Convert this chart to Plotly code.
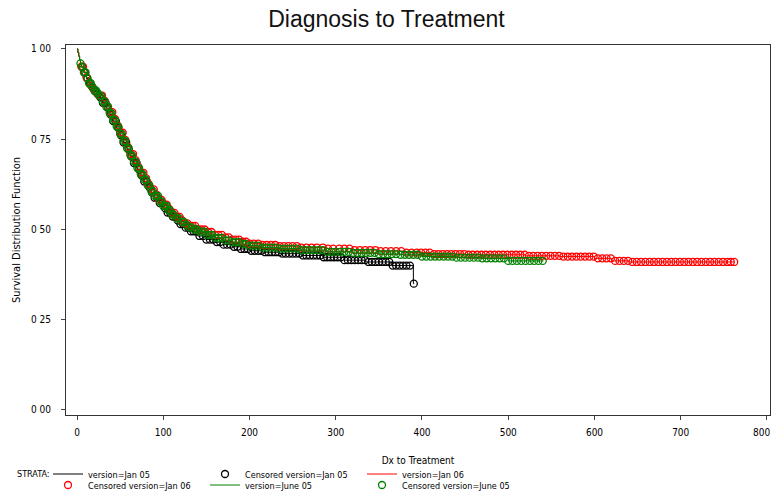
import numpy as np
import plotly.graph_objects as go

# ---------------- data ----------------
strata = ["version=Jan 05", "version=Jan 06", "version=June 05"]
colors = ["#000000", "#ff0000", "#008000"]

# Kaplan-Meier step knots: (time, survival after step)
jan05_t = [0, 1, 2, 3, 4, 5, 8, 11, 14, 17, 20, 23, 26, 30, 34, 38, 42, 46, 50, 54, 58, 62, 66,
           70, 74, 78, 82, 86, 90, 95, 100, 105, 110, 115, 120, 125, 130, 140, 150, 160, 170,
           180, 190, 200, 215, 235, 260, 285, 310, 335, 365, 390, 391]
jan05_s = [1.0, 0.99, 0.98, 0.97, 0.96, 0.95, 0.934, 0.918, 0.903, 0.893, 0.883, 0.875, 0.866,
           0.851, 0.836, 0.818, 0.80, 0.781, 0.761, 0.741, 0.721, 0.702, 0.684, 0.666, 0.649,
           0.633, 0.617, 0.602, 0.588, 0.573, 0.559, 0.547, 0.536, 0.525, 0.515, 0.505, 0.495,
           0.482, 0.472, 0.465, 0.458, 0.452, 0.446, 0.441, 0.437, 0.433, 0.428, 0.423, 0.415,
           0.41, 0.40, 0.35, 0.35]

jan06_t = [0, 1, 2, 3, 4, 5, 8, 11, 14, 17, 20, 23, 26, 30, 34, 38, 42, 46, 50, 54, 58, 62, 66,
           70, 74, 78, 82, 86, 90, 95, 100, 105, 110, 115, 120, 125, 130, 140, 150, 160, 170,
           180, 190, 200, 215, 235, 260, 290, 320, 350, 380, 410, 450, 520, 560, 600, 620, 640,
           762]
jan06_s = [1.0, 0.99, 0.98, 0.97, 0.96, 0.951, 0.936, 0.921, 0.907, 0.897, 0.887, 0.879, 0.871,
           0.857, 0.842, 0.825, 0.806, 0.788, 0.768, 0.748, 0.729, 0.709, 0.692, 0.674, 0.657,
           0.642, 0.626, 0.611, 0.597, 0.582, 0.569, 0.557, 0.546, 0.535, 0.525, 0.517, 0.51,
           0.50, 0.493, 0.485, 0.478, 0.472, 0.466, 0.461, 0.457, 0.454, 0.45, 0.447, 0.443,
           0.44, 0.436, 0.432, 0.43, 0.427, 0.425, 0.42, 0.413, 0.41, 0.41]

june05_t = [0, 1, 2, 3, 4, 5, 8, 11, 14, 17, 20, 23, 26, 30, 34, 38, 42, 46, 50, 54, 58, 62, 66,
            70, 74, 78, 82, 86, 90, 95, 100, 105, 110, 115, 120, 125, 130, 135, 140, 150, 160,
            170, 180, 190, 200, 215, 235, 260, 290, 320, 350, 375, 400, 440, 470, 500, 541]
june05_s = [1.0, 0.99, 0.98, 0.97, 0.96, 0.95, 0.935, 0.92, 0.905, 0.895, 0.885, 0.878, 0.87,
            0.855, 0.84, 0.822, 0.803, 0.785, 0.765, 0.745, 0.725, 0.705, 0.688, 0.67, 0.653,
            0.638, 0.622, 0.607, 0.593, 0.578, 0.565, 0.553, 0.542, 0.531, 0.521, 0.513, 0.506,
            0.50, 0.494, 0.485, 0.477, 0.47, 0.465, 0.46, 0.455, 0.45, 0.447, 0.443, 0.438,
            0.435, 0.432, 0.43, 0.425, 0.422, 0.42, 0.413, 0.413]

# censoring times
jan05_cens = [6, 9, 12, 15, 18, 21, 24, 27, 30, 33, 36, 39, 42, 45, 48, 51, 54, 57, 60, 63, 66,
              69, 72, 75, 78, 81, 84, 87, 90, 93, 96, 99, 102, 105, 108, 111, 114, 117, 120,
              123, 126, 129, 132, 135, 138, 142, 146, 150, 154, 158, 162, 166, 170, 174, 178,
              182, 186, 190, 194, 198, 202, 206, 210, 214, 218, 222, 226, 230, 234, 238, 242,
              246, 250, 254, 258, 262, 266, 270, 274, 278, 282, 286, 290, 294, 298, 302, 306,
              310, 314, 318, 322, 326, 330, 334, 338, 342, 346, 350, 354, 358, 362, 366, 370,
              374, 378, 382, 386, 390.5]
jan06_cens = [5, 7, 9, 11, 14, 17, 20, 23, 26, 29, 32, 35, 38, 41, 44, 47, 50, 53, 56, 59, 62,
              65, 68, 71, 74, 77, 80, 83, 86, 89, 92, 95, 98, 101, 104, 107, 110, 113, 116, 119,
              122, 125, 128, 131, 134, 137, 140, 144, 148, 152, 156, 160, 164, 168, 172, 176,
              180, 184, 188, 192, 196, 200, 205, 210, 215, 220, 225, 230, 235, 240, 245, 250,
              255, 260, 266, 272, 278, 285, 291, 297, 304, 310, 316, 322, 328, 334, 340, 346,
              352, 358, 364, 370, 376, 382, 388, 394, 399, 404, 409, 414, 419, 424, 429, 434,
              439, 444, 449, 454, 459, 464, 469, 474, 479, 484, 489, 494, 499, 504, 509, 514,
              519, 524, 529, 534, 539, 544, 549, 554, 559, 564, 569, 574, 579, 584, 589, 594,
              599, 604, 609, 614, 619, 624, 629, 634, 639, 644, 649, 654, 659, 664, 669, 674,
              679, 684, 689, 694, 699, 704, 709, 714, 719, 724, 729, 734, 739, 744, 749, 754,
              758, 762]
june05_cens = [4, 6, 8, 10, 12, 14, 16, 18, 20, 22, 24, 26, 28, 30, 32, 34, 36, 38, 40, 42, 44,
               46, 48, 50, 52, 54, 56, 58, 60, 62, 64, 66, 68, 70, 72, 74, 76, 78, 80, 82, 84,
               86, 88, 90, 92, 94, 96, 98, 100, 102, 104, 106, 108, 110, 112, 115, 118, 121,
               124, 127, 130, 133, 136, 139, 142, 145, 148, 151, 154, 157, 160, 164, 168, 172,
               176, 180, 184, 188, 192, 196, 200, 205, 210, 215, 220, 225, 230, 235, 240, 245,
               250, 255, 260, 265, 270, 275, 280, 285, 290, 295, 300, 305, 310, 315, 320, 325,
               330, 335, 340, 345, 350, 355, 360, 365, 370, 375, 380, 385, 390, 395, 400, 405,
               410, 415, 420, 425, 430, 435, 440, 445, 450, 455, 460, 465, 470, 475, 480, 485,
               490, 495, 500, 505, 510, 515, 520, 525, 530, 535, 540]

x_ticks = [0, 100, 200, 300, 400, 500, 600, 700, 800]
x_ticktext = ["0", "100", "200", "300", "400", "500", "600", "700", "800"]
y_ticks = [0.0, 0.25, 0.5, 0.75, 1.0]
y_ticktext = ["0 00", "0 25", "0 50", "0 75", "1 00"]

title_text = "Diagnosis to Treatment"
x_title = "Dx to Treatment"
y_title = "Survival Distribution Function"
legend_title = "STRATA:"

# ---------------- figure ----------------
FONT = "DejaVu Sans Condensed, Liberation Sans Narrow, Liberation Sans, sans-serif"

curves = [(jan05_t, jan05_s, jan05_cens), (jan06_t, jan06_s, jan06_cens),
          (june05_t, june05_s, june05_cens)]


def km_at(times, surv, t):
    idx = np.searchsorted(np.asarray(times), np.asarray(t), side="right") - 1
    return np.asarray(surv)[idx]


fig = go.Figure()
legend_of = {("line", 0): "legend", ("cens", 0): "legend", ("line", 1): "legend",
             ("cens", 1): "legend2", ("line", 2): "legend2", ("cens", 2): "legend2"}
for i, (t, s, c) in enumerate(curves):
    fig.add_trace(go.Scatter(
        x=t, y=s, mode="lines", line=dict(color=colors[i], width=1, shape="hv"),
        name=strata[i], legend=legend_of[("line", i)]))
    fig.add_trace(go.Scatter(
        x=c, y=km_at(t, s, c), mode="markers",
        marker=dict(symbol="circle-open", size=7, color=colors[i], line=dict(width=1.3)),
        name="Censored " + strata[i], legend=legend_of[("cens", i)]))

leg_common = dict(orientation="h", xanchor="left", yanchor="middle", entrywidth=112,
                  entrywidthmode="pixels", font=dict(family=FONT, size=9),
                  bgcolor="rgba(0,0,0,0)", itemclick=False, tracegroupgap=0)
fig.update_layout(
    width=773, height=491,
    margin=dict(l=66, r=3, t=45, b=76, autoexpand=False),
    paper_bgcolor="white", plot_bgcolor="white",
    title=dict(text=title_text, x=0.5, xref="container", xanchor="center", y=0.961,
               yanchor="middle",
               font=dict(family="Liberation Sans, Arial, sans-serif", size=23, color="#111111")),
    font=dict(family=FONT, size=10, color="black"),
    legend=dict(x=(48 - 66) / 704, y=(415 - 474) / 370, **leg_common),
    legend2=dict(x=(48 - 66) / 704, y=(415 - 485) / 370, **leg_common),
    showlegend=True,
)
fig.add_annotation(text=legend_title, xref="paper", yref="paper", x=(15 - 66) / 704,
                   y=(415 - 474) / 370, xanchor="left", yanchor="middle", showarrow=False,
                   font=dict(family=FONT, size=9, color="black"))

# last tick label drawn right-aligned so it stays inside the page edge
shown_ticktext = x_ticktext[:-1] + [""]
fig.add_annotation(text=x_ticktext[-1], xref="paper", yref="paper", x=(772 - 66) / 704,
                   y=(415 - 432) / 370, xanchor="right", yanchor="middle", showarrow=False,
                   font=dict(family=FONT, size=10, color="black"))

fig.update_xaxes(range=[-12.75, 803.5], tickvals=x_ticks, ticktext=shown_ticktext,
                 ticks="outside", ticklen=4, ticklabelstandoff=4,
                 showline=True, linecolor="#333333", linewidth=1, mirror=True,
                 showgrid=False, zeroline=False, title=dict(text=x_title, standoff=19,
                 font=dict(family=FONT, size=10)), tickfont=dict(family=FONT, size=10))
fig.update_yaxes(range=[-0.0139, 1.011], tickvals=y_ticks, ticktext=y_ticktext,
                 ticks="outside", ticklen=4, ticklabelstandoff=8, showline=True,
                 linecolor="#333333", linewidth=1,
                 mirror=True, showgrid=False, zeroline=False,
                 title=dict(text=y_title, standoff=8, font=dict(family=FONT, size=11)),
                 tickfont=dict(family=FONT, size=10))

fig.write_html("out.html")
